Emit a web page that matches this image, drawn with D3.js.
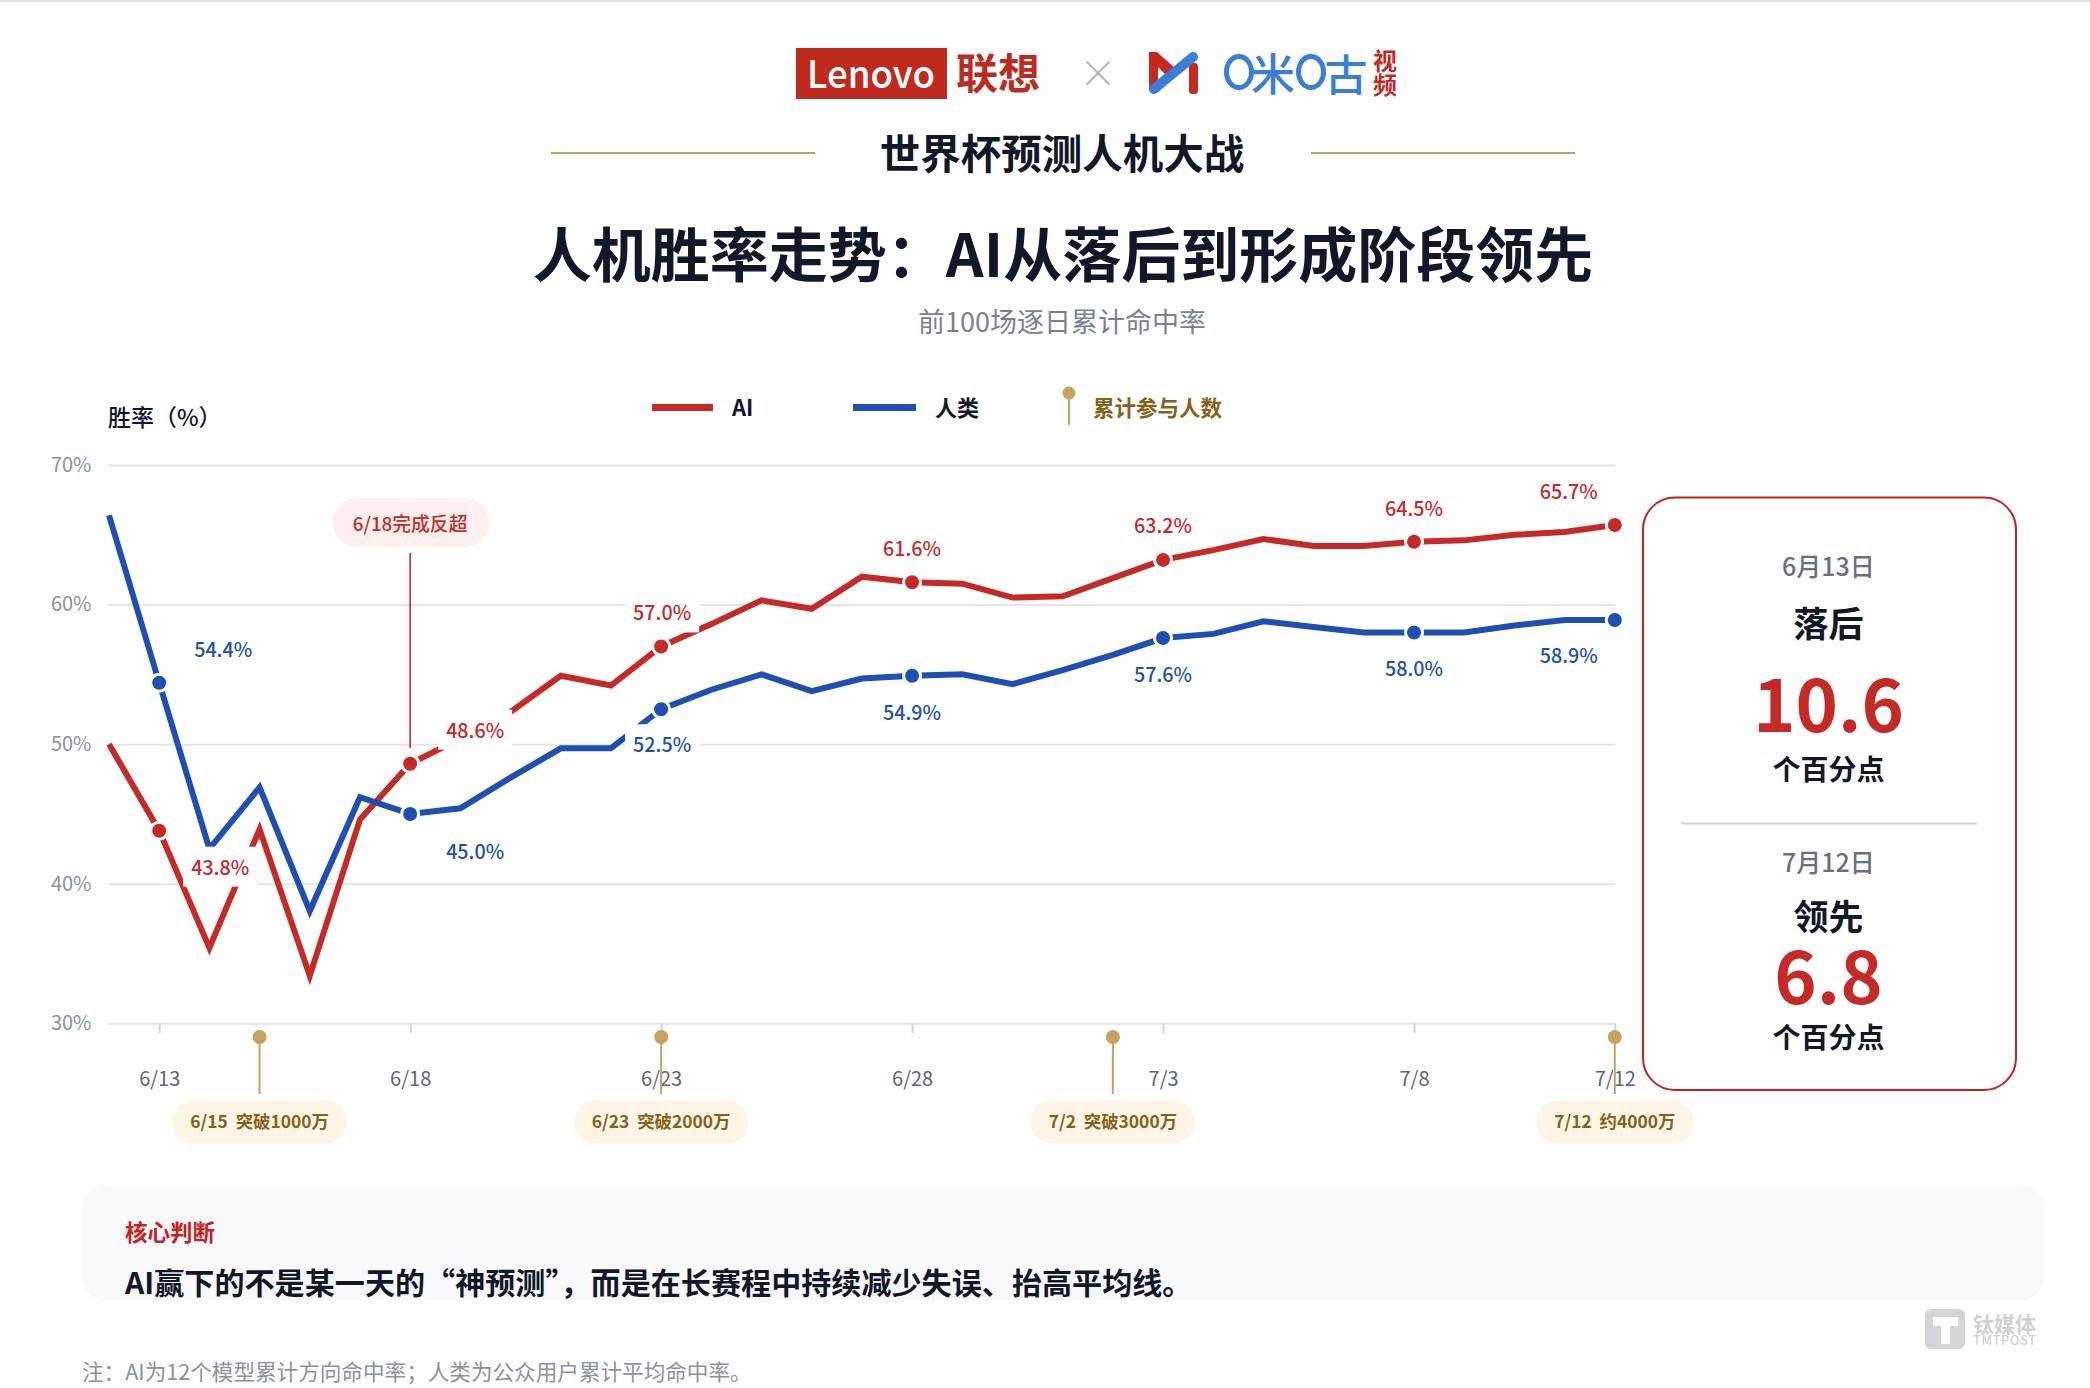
<!DOCTYPE html>
<html lang="zh-CN">
<head>
<meta charset="utf-8">
<title>人机胜率走势</title>
<script src="https://cdn.jsdelivr.net/npm/d3@7/dist/d3.min.js"></script>
<style>
  html, body { margin: 0; padding: 0; background: #fff; overflow: hidden; }
  svg { display: block; }
  text { font-family: "Noto Sans CJK SC", "Noto Sans", sans-serif; }
</style>
</head>
<body>
<svg id="chart" width="2090" height="1388"></svg>
<script>
// Every day of the tournament window
const dates = ["6/12","6/13","6/14","6/15","6/16","6/17","6/18","6/19","6/20","6/21","6/22",
  "6/23","6/24","6/25","6/26","6/27","6/28","6/29","6/30","7/1","7/2",
  "7/3","7/4","7/5","7/6","7/7","7/8","7/9","7/10","7/11","7/12"];

// Cumulative hit rate, percent
const aiRate = [50.0,43.8,35.4,43.9,33.4,44.6,48.6,50.4,52.3,54.9,54.2,
  57.0,58.6,60.3,59.7,62.0,61.6,61.5,60.5,60.6,61.9,
  63.2,63.9,64.7,64.2,64.2,64.5,64.6,65.0,65.2,65.7];
const humanRate = [66.4,54.4,42.5,46.9,38.05,46.2,45.0,45.4,47.6,49.7,49.7,
  52.5,53.9,55.0,53.8,54.7,54.9,55.0,54.3,55.3,56.4,
  57.6,57.9,58.8,58.4,58.0,58.0,58.0,58.5,58.9,58.9];

const xTickDates = ["6/13","6/18","6/23","6/28","7/3","7/8","7/12"];
const yTicks = [30,40,50,60,70];
const markedDates = ["6/13","6/18","6/23","6/28","7/3","7/8","7/12"];

const milestoneDates = ["6/15","6/23","7/2","7/12"];
const milestoneTexts = ["6/15  突破1000万","6/23  突破2000万","7/2  突破3000万","7/12  约4000万"];

// Full-width punctuation written as escapes so it survives any editor normalisation
const titleText = "人机胜率走势\uFF1AAI从落后到形成阶段领先";
const axisCaption = "胜率\uFF08%\uFF09";
const takeawayText = "AI赢下的不是某一天的\u201C神预测\u201D\uFF0C而是在长赛程中持续减少失误\u3001抬高平均线\u3002";
const noteText = "注\uFF1AAI为12个模型累计方向命中率\uFF1B人类为公众用户累计平均命中率\u3002";

const RED = "#c62a26", BLUE = "#1f4fb2", GOLD = "#c4a35f", BROWN = "#86611a", INK = "#111827";
const svg = d3.select("#chart");

const x = d3.scalePoint().domain(dates).range([109, 1614.8]);
const y = d3.scaleLinear().domain([30, 70]).range([1023.3, 465]);

// Central baseline in this font sits slightly low, hence the small lift
function put(str, px, py, size, fill, weight, anchor) {
  return svg.append("text").attr("x", px).attr("y", py - 1.5)
    .attr("font-size", size).attr("fill", fill).attr("font-weight", weight || 400)
    .attr("text-anchor", anchor || "middle").attr("dominant-baseline", "central").text(str);
}

// Strip along the top edge
svg.append("rect").attr("width", 2090).attr("height", 2).attr("fill", "#e2e3e6");

// Partner logos
svg.append("rect").attr("x", 796).attr("y", 48).attr("width", 151).attr("height", 51).attr("fill", "#bf2a1e");
put("Lenovo", 871, 73, 38, "#fff", 500).attr("font-family", "Roboto").attr("textLength", 128).attr("lengthAdjust", "spacingAndGlyphs");
put("联想", 998, 72, 42, "#bf2a1e", 700);
put("\u00D7", 1098, 72, 38, "#aeb3bc", 300);
svg.append("path").attr("fill", "#c4281f")
  .attr("d", "M1149 52 L1157 52 L1175 68 L1168 77 L1158 67 L1158 82 L1149 90 Z");
svg.append("rect").attr("x", 1189).attr("y", 63).attr("width", 9).attr("height", 31).attr("rx", 3.5).attr("fill", "#c4281f");
svg.append("line").attr("x1", 1154).attr("y1", 89).attr("x2", 1193).attr("y2", 57)
  .attr("stroke", "#3a7fd5").attr("stroke-width", 10).attr("stroke-linecap", "round");
[1239, 1311].forEach(cx => svg.append("ellipse").attr("cx", cx).attr("cy", 72).attr("rx", 12.5).attr("ry", 15.5)
  .attr("fill", "none").attr("stroke", "#3a7fd5").attr("stroke-width", 5));
put("米", 1273, 73, 44, "#3a7fd5", 500);
put("古", 1346, 73, 43, "#3a7fd5", 500);
put("视", 1385, 61, 24, "#bf2a1e", 700);
put("频", 1385, 85, 24, "#bf2a1e", 700);

// Headings
[[551, 815], [1311, 1575]].forEach(r => svg.append("line")
  .attr("x1", r[0]).attr("x2", r[1]).attr("y1", 153).attr("y2", 153)
  .attr("stroke", GOLD).attr("stroke-width", 2));
put("世界杯预测人机大战", 1062, 153, 40.5, INK, 700);
put(titleText, 1063, 252.5, 59, INK, 700);
put("前100场逐日累计命中率", 1062, 322, 27, "#7a8291", 400);

// Y axis and horizontal gridlines
const yAxis = svg.append("g").attr("transform", "translate(108.5,0)")
  .call(d3.axisLeft(y).tickValues(yTicks).tickSize(-1507).tickPadding(17).tickFormat(d => d + "%"));
yAxis.select(".domain").remove();
yAxis.selectAll("line").attr("stroke", "#e4e6ec").attr("stroke-width", 2);
yAxis.selectAll("text").attr("font-size", 20).attr("fill", "#8a92a1")
  .attr("font-family", '"Noto Sans CJK SC"');

// X axis
const xAxis = svg.append("g").attr("transform", "translate(0,1023.3)")
  .call(d3.axisBottom(x).tickValues(xTickDates).tickSize(10).tickPadding(39));
xAxis.select(".domain").remove();
xAxis.selectAll("line").attr("stroke", "#d3d6df").attr("stroke-width", 2);
xAxis.selectAll("text").attr("font-size", 20).attr("fill", "#5d6678")
  .attr("font-family", '"Noto Sans CJK SC"');

// Axis caption and legend
put(axisCaption, 108, 417, 23, INK, 500, "start");
svg.append("rect").attr("x", 652).attr("y", 404).attr("width", 61).attr("height", 7).attr("fill", RED);
put("AI", 732, 407, 22, INK, 700, "start");
svg.append("rect").attr("x", 853).attr("y", 404).attr("width", 63).attr("height", 7).attr("fill", BLUE);
put("人类", 935, 407, 22, INK, 700, "start");
svg.append("line").attr("x1", 1069).attr("x2", 1069).attr("y1", 393).attr("y2", 425).attr("stroke", GOLD).attr("stroke-width", 2);
svg.append("circle").attr("cx", 1069).attr("cy", 393).attr("r", 6.5).attr("fill", GOLD);
put("累计参与人数", 1093, 408, 21.5, BROWN, 700, "start");

// Series lines
const line = d3.line().x((d, i) => x(dates[i])).y(d => y(d));
[[aiRate, RED], [humanRate, BLUE]].forEach(s => svg.append("path")
  .datum(s[0]).attr("d", line).attr("fill", "none")
  .attr("stroke", s[1]).attr("stroke-width", 6).attr("stroke-linejoin", "miter"));

// Crossover callout
svg.append("line").attr("x1", x("6/18")).attr("x2", x("6/18")).attr("y1", 553).attr("y2", 748)
  .attr("stroke", RED).attr("stroke-width", 1.6);
svg.append("rect").attr("x", 333).attr("y", 498).attr("width", 156).attr("height", 49).attr("rx", 24.5).attr("fill", "#fdf0ee");
put("6/18完成反超", x("6/18"), 524, 18.8, RED, 500);

// Value labels sit on white plates that interrupt whatever runs behind them
const aiLabelPlace = { "6/13": [61, 37], "6/18": [65, -33], "6/23": [1, -33], "6/28": [0, -33], "7/3": [0, -33.5], "7/8": [0, -33], "7/12": [-46, -33] };
const humanLabelPlace = { "6/13": [64, -33], "6/18": [65, 38], "6/23": [1, 36], "6/28": [0, 37], "7/3": [0, 36.5], "7/8": [0, 36.5], "7/12": [-46, 36] };

function labels(values, color, place) {
  markedDates.forEach(d => {
    const v = values[dates.indexOf(d)];
    const px = x(d) + place[d][0], py = y(v) + place[d][1];
    svg.append("rect").attr("x", px - 37).attr("y", py - 21).attr("width", 74).attr("height", 40).attr("fill", "#fff");
    put(v.toFixed(1) + "%", px, py, 19.7, color, 500);
  });
}
function markers(values, color) {
  svg.append("g").selectAll("circle").data(markedDates).join("circle")
    .attr("cx", d => x(d)).attr("cy", d => y(values[dates.indexOf(d)]))
    .attr("r", 8.5).attr("fill", color).attr("stroke", "#fff").attr("stroke-width", 3);
}
labels(aiRate, RED, aiLabelPlace);
labels(humanRate, BLUE, humanLabelPlace);
markers(aiRate, RED);
markers(humanRate, BLUE);

// Participation milestones below the axis
milestoneDates.forEach((d, i) => {
  const mx = x(d);
  svg.append("line").attr("x1", mx).attr("x2", mx).attr("y1", 1037).attr("y2", 1094).attr("stroke", GOLD).attr("stroke-width", 2);
  svg.append("circle").attr("cx", mx).attr("cy", 1037).attr("r", 7).attr("fill", GOLD);
  const t = put(milestoneTexts[i], mx, 1122, 17.4, BROWN, 700).attr("xml:space", "preserve").style("white-space", "pre");
  const w = t.node().getComputedTextLength() + 36;
  svg.insert("rect", () => t.node()).attr("x", mx - w / 2).attr("y", 1100.5).attr("width", w).attr("height", 43)
    .attr("rx", 21.5).attr("fill", "#fdf6e6");
});

// Gap summary card
svg.append("rect").attr("x", 1643).attr("y", 497.5).attr("width", 373).attr("height", 592.5).attr("rx", 32)
  .attr("fill", "#fff").attr("stroke", "#c8201f").attr("stroke-width", 2);
const cardX = 1828.5;
put("6月13日", cardX, 566, 25, "#667085", 500);
put("落后", cardX, 623, 35, INK, 700);
put("10.6", cardX, 702, 72, RED, 700);
put("个百分点", cardX, 769, 28, INK, 700);
svg.append("line").attr("x1", 1681).attr("x2", 1977).attr("y1", 823.5).attr("y2", 823.5).attr("stroke", "#d0d4de").attr("stroke-width", 2);
put("7月12日", cardX, 862, 25, "#667085", 500);
put("领先", cardX, 916, 35, INK, 700);
put("6.8", cardX, 974, 72, RED, 700);
put("个百分点", cardX, 1037, 28, INK, 700);

// Takeaway panel: its lower edge trims the sentence
const clip = svg.append("clipPath").attr("id", "panelClip");
clip.append("rect").attr("x", 82).attr("y", 1184.5).attr("width", 1962).attr("height", 116).attr("rx", 24);
svg.append("rect").attr("x", 82).attr("y", 1184.5).attr("width", 1962).attr("height", 116).attr("rx", 24).attr("fill", "#f8f9fb");
put("核心判断", 125, 1232.5, 22.5, "#c8201f", 700, "start");
put(takeawayText, 125, 1282.5, 30.1, INK, 700, "start")
  .attr("clip-path", "url(#panelClip)");

// Source note and publisher mark
put(noteText, 82, 1371.5, 21.6, "#8a92a1", 400, "start");
svg.append("rect").attr("x", 1925).attr("y", 1309).attr("width", 40).attr("height", 40).attr("rx", 6).attr("fill", "#d3d5d8");
svg.append("path").attr("fill", "#fff").attr("d", "M1933 1317 H1958 V1326 H1950 V1344 H1941 V1326 H1933 Z");
put("钛媒体", 1973, 1324, 21, "#cfd1d5", 700, "start");
put("TMTPOST", 1973, 1341, 12.5, "#cfd1d5", 500, "start").attr("textLength", 63);
</script>
</body>
</html>
